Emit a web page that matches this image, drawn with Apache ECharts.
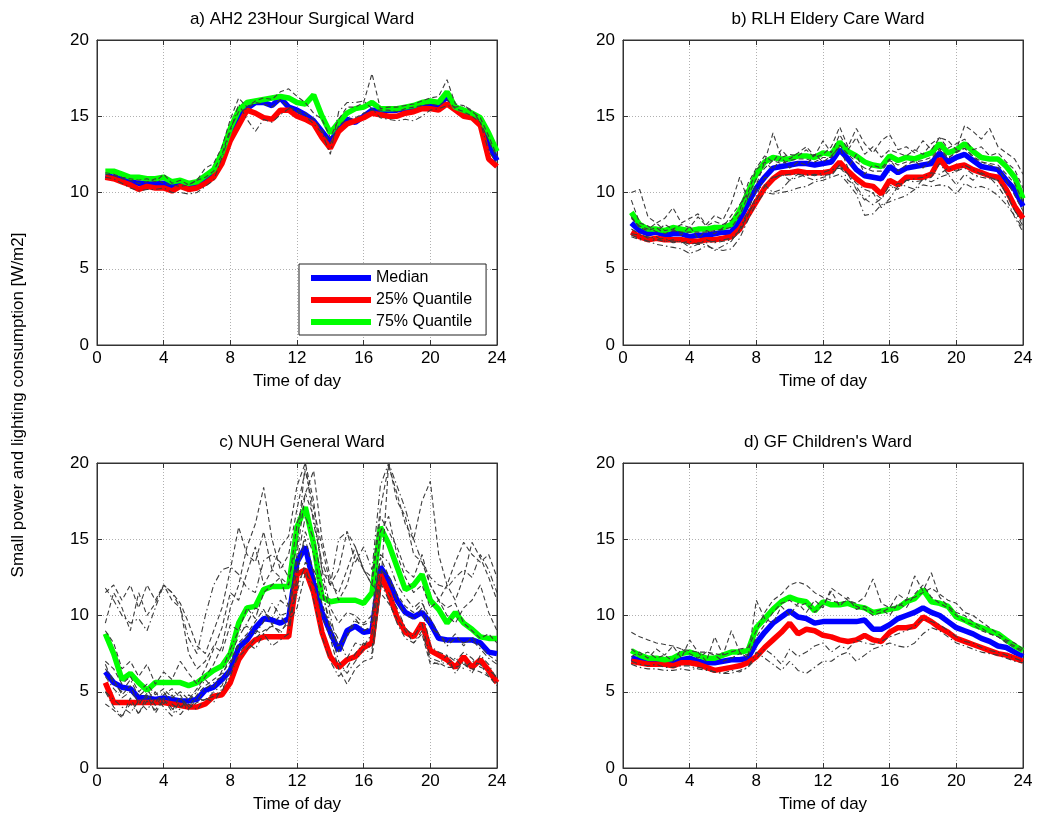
<!DOCTYPE html>
<html>
<head>
<meta charset="utf-8">
<script src="https://cdn.jsdelivr.net/npm/echarts@6/dist/echarts.min.js"></script>
<style>
  html, body { margin: 0; padding: 0; background: #fff; }
  #main { width: 1039px; height: 826px; }
</style>
</head>
<body>
<div id="main"></div>
<script>
// half-hourly time stamps
var hours = [0.5,1,1.5,2,2.5,3,3.5,4, 4.5,5,5.5,6,6.5,7,7.5,8,
             8.5,9,9.5,10,10.5,11,11.5,12, 12.5,13,13.5,14,14.5,15,15.5,16,
             16.5,17,17.5,18,18.5,19,19.5,20, 20.5,21,21.5,22,22.5,23,23.5,24];
var xTicks = [0, 4, 8, 12, 16, 20, 24];
var yTicks = [0, 5, 10, 15, 20];

var panelTitles = ['a) AH2 23Hour Surgical Ward', 'b) RLH Eldery Care Ward',
                   'c) NUH General Ward', "d) GF Children's Ward"];

// a) AH2
var medA = [11.1,11.0,10.9,10.7,10.6,10.6,10.6,10.6,
  10.4,10.5,10.4,10.6,10.9,11.2,12.3,13.8,
  14.9,15.5,15.9,15.9,15.7,16.2,15.6,15.4,
  15.1,14.7,14.0,13.3,14.2,14.8,14.6,15.0,
  15.4,15.4,15.4,15.4,15.5,15.6,15.7,15.8,
  15.7,16.3,15.6,15.3,15.1,14.7,13.2,12.1];
var q25A = [11.0,10.9,10.7,10.5,10.2,10.4,10.3,10.3,
  10.1,10.4,10.2,10.3,10.6,11.0,11.9,13.4,
  14.4,15.4,15.2,14.9,14.8,15.4,15.4,15.0,
  14.8,14.5,13.6,12.9,14.0,14.5,14.7,14.9,
  15.2,15.1,15.0,15.0,15.2,15.3,15.5,15.5,
  15.4,15.8,15.4,15.0,14.9,14.4,12.2,11.7];
var q75A = [11.4,11.4,11.2,11.0,11.0,10.9,10.9,11.0,
  10.7,10.8,10.6,10.7,11.1,11.5,12.6,14.2,
  15.4,15.9,16.0,16.1,16.2,16.3,16.2,15.9,
  15.8,16.4,15.0,13.9,14.6,15.2,15.5,15.6,
  15.9,15.5,15.5,15.5,15.6,15.7,15.9,16.0,
  15.9,16.6,15.6,15.4,15.2,14.9,13.9,12.7];
var daysA = [
 [11.3,11.2,11.0,10.9,10.8,10.9,10.7,11.2,
  10.6,10.8,10.5,10.8,11.6,11.9,13.0,14.8,
  16.2,15.6,16.0,16.2,16.1,16.6,16.8,16.3,
  15.9,15.2,14.8,13.6,14.8,15.6,15.6,15.9,
  17.8,15.5,15.6,15.6,15.7,15.8,16.0,16.2,
  16.3,17.4,15.8,15.7,15.3,14.9,13.7,12.4],
 [11.0,10.9,10.6,10.3,10.1,10.2,10.2,10.3,
  10.0,10.0,9.9,10.0,10.4,10.8,12.3,14.0,
  15.8,14.8,14.0,14.8,14.6,15.1,15.5,15.3,
  15.0,14.5,13.9,12.5,15.3,15.9,15.9,16.0,
  15.5,14.9,14.8,14.7,14.8,14.7,15.0,15.4,
  15.5,15.7,15.6,15.7,15.4,14.6,12.7,11.9],
 [11.2,11.1,10.9,10.8,10.6,10.7,10.9,10.6,
  10.5,10.4,10.5,10.8,11.0,11.4,12.5,14.2,
  15.3,15.5,15.9,15.8,15.6,16.1,15.6,15.4,
  15.2,14.8,14.1,13.2,14.4,14.8,14.9,15.2,
  15.4,15.4,15.4,15.3,15.5,15.6,15.7,15.8,
  15.7,16.1,15.5,15.3,15.0,14.6,13.4,12.3]
];

// b) RLH
var medB = [8.0,7.5,7.3,7.4,7.2,7.3,7.3,7.1,
  7.2,7.2,7.3,7.4,7.4,8.2,9.3,10.3,
  11.0,11.6,11.7,11.8,11.9,11.9,11.8,11.9,
  12.0,12.8,12.2,11.5,11.1,11.0,10.9,11.7,
  11.3,11.6,11.7,11.8,11.9,12.6,12.0,12.3,
  12.5,12.1,11.7,11.6,11.5,10.8,10.2,9.1];
var q25B = [7.4,7.1,6.9,7.0,6.9,6.9,6.9,6.8,
  6.8,6.9,6.9,7.0,7.1,7.6,8.5,9.4,
  10.3,10.9,11.3,11.3,11.4,11.3,11.3,11.3,
  11.4,12.0,11.4,10.9,10.5,10.4,9.9,10.8,
  10.5,11.0,11.0,11.0,11.2,12.2,11.5,11.7,
  11.8,11.5,11.3,11.1,11.0,10.2,9.1,8.3];
var q75B = [8.7,7.9,7.6,7.6,7.5,7.7,7.6,7.5,
  7.6,7.6,7.7,7.7,7.9,8.8,10.0,11.2,
  12.0,12.3,12.2,12.2,12.4,12.4,12.3,12.6,
  12.5,13.3,12.7,12.4,12.0,11.8,11.7,12.4,
  12.1,12.3,12.2,12.4,12.6,13.2,12.6,12.8,
  13.2,12.7,12.3,12.2,12.2,11.7,11.0,9.6];
var daysB = [
 [10.0,10.2,8.4,8.0,8.3,9.0,8.0,8.3,
  8.6,7.9,8.5,8.2,9.3,11.0,9.5,10.5,
  12.0,13.9,12.3,12.5,12.4,12.8,12.3,12.5,
  13.0,14.3,13.0,14.2,13.2,12.6,13.4,13.8,
  12.8,13.0,12.6,13.4,12.8,13.6,13.4,12.8,
  14.4,14.0,13.5,14.2,13.0,12.6,12.2,11.2],
 [7.1,6.9,6.8,6.6,6.5,6.4,6.3,6.0,
  6.2,6.5,6.3,6.2,6.3,7.0,8.2,9.3,
  10.0,9.9,10.0,10.1,10.3,10.4,10.7,10.8,
  11.0,11.2,10.6,9.9,8.5,8.6,9.2,9.4,
  9.6,9.8,10.2,10.5,10.4,10.5,10.4,9.9,
  10.6,10.3,10.4,10.2,9.8,9.2,8.5,7.6],
 [8.3,7.8,7.6,8.0,7.5,7.6,7.9,7.7,
  8.4,7.8,8.1,7.9,8.2,8.8,10.6,11.6,
  12.4,12.0,12.8,12.2,12.6,13.0,12.4,13.4,
  12.6,13.8,12.8,13.6,12.5,13.0,12.3,12.8,
  12.6,12.4,12.8,12.5,13.2,13.6,12.9,13.2,
  13.5,12.8,13.0,12.4,12.6,12.0,11.5,10.3],
 [7.6,7.3,7.0,7.1,6.8,6.9,6.7,6.8,
  6.6,6.9,6.7,6.8,6.9,7.4,8.5,9.8,
  11.0,10.9,11.2,10.8,11.0,11.2,11.1,11.3,
  11.5,11.6,11.2,10.2,9.5,10.0,9.0,9.6,
  10.4,10.8,10.9,11.0,11.3,11.2,11.6,11.4,
  11.8,11.5,11.2,11.0,10.8,10.0,8.8,7.8],
 [9.5,8.0,7.8,7.4,7.9,7.6,7.2,7.8,
  7.0,7.5,7.3,7.7,8.5,9.2,10.0,11.5,
  12.0,11.5,12.3,11.6,12.0,11.8,12.5,12.0,
  12.4,13.0,11.6,12.5,11.2,11.8,11.6,12.2,
  11.4,11.8,12.1,11.6,12.2,12.8,12.2,12.7,
  12.9,12.3,12.0,11.8,11.6,10.8,9.8,8.8],
 [7.3,7.2,7.1,6.9,7.0,6.7,6.8,6.4,
  6.6,6.6,6.2,6.5,6.8,7.6,8.8,10.2,
  10.5,10.0,10.2,10.8,11.2,11.0,10.8,11.0,
  11.1,11.8,10.8,10.4,9.6,9.2,9.6,10.2,
  10.6,10.4,10.2,10.9,10.7,11.0,11.2,10.5,
  11.2,10.8,11.3,11.0,10.4,9.6,8.4,7.4],
 [8.4,7.7,7.5,7.7,7.3,7.5,7.4,7.4,
  7.4,7.4,7.5,7.6,7.7,8.5,9.8,10.9,
  11.6,12.1,11.9,12.1,12.2,12.2,12.0,12.3,
  12.3,13.1,12.5,12.0,11.6,11.4,11.4,12.1,
  11.8,12.0,12.0,12.1,12.3,12.9,12.3,12.6,
  12.9,12.4,12.0,11.9,11.8,11.2,10.6,9.4],
 [7.2,7.0,6.8,6.9,6.8,6.8,6.8,6.6,
  6.7,6.7,6.8,6.9,7.0,7.5,8.6,9.5,
  10.4,11.0,11.1,11.2,11.2,11.1,11.2,11.1,
  11.2,11.8,11.2,10.6,10.2,10.0,9.6,10.5,
  10.2,10.8,10.7,10.8,11.0,11.9,11.2,11.4,
  11.6,11.2,11.0,10.9,10.8,9.9,8.8,8.0]
];

// c) NUH
var medC = [6.3,5.6,5.3,5.2,4.6,4.6,4.5,4.6,
  4.5,4.4,4.4,4.5,5.1,5.3,5.8,6.4,
  7.9,8.4,9.2,9.8,9.7,9.5,9.8,13.5,
  14.5,12.1,10.2,8.9,7.7,9.0,9.3,8.9,
  9.0,13.2,12.3,11.0,10.2,9.9,10.2,9.5,
  8.5,8.4,8.4,8.4,8.4,8.2,7.6,7.5];
var q25C = [5.6,4.3,4.3,4.3,4.3,4.3,4.3,4.3,
  4.2,4.1,4.0,4.0,4.2,4.7,4.8,5.6,
  7.1,7.9,8.4,8.6,8.6,8.6,8.6,12.7,
  13.0,11.5,8.9,7.3,6.6,7.1,7.3,7.9,
  8.2,12.7,11.5,9.9,8.9,8.6,9.5,7.7,
  7.4,7.1,6.6,7.3,6.6,7.1,6.4,5.6];
var q75C = [8.8,7.5,5.8,6.2,5.6,5.1,5.6,5.6,
  5.6,5.6,5.4,5.6,6.0,6.4,6.7,7.5,
  9.5,10.5,10.6,11.7,11.9,11.9,11.9,15.8,
  17.1,14.7,11.2,10.9,11.0,11.0,11.0,10.8,
  11.5,15.8,14.7,13.2,11.7,12.0,12.7,11.0,
  10.4,9.5,10.2,9.5,9.1,8.6,8.5,8.5];
var daysC = [
 [11.5,12.0,11.0,12.0,10.5,12.0,11.0,12.0,
  11.5,10.8,9.5,8.0,7.5,9.0,10.5,13.0,
  15.8,14.0,13.5,15.5,13.0,14.5,15.2,18.5,
  20.0,17.5,13.0,12.0,11.5,13.0,14.5,13.0,
  12.0,11.5,20.0,17.5,16.5,14.0,13.5,12.0,
  11.0,12.0,13.5,14.8,14.0,13.5,14.0,12.5],
 [11.8,11.0,10.0,9.5,9.8,9.0,10.5,12.0,
  11.5,10.5,8.5,7.5,10.0,12.0,13.0,13.2,
  12.7,11.8,11.5,13.6,14.0,13.5,12.5,14.5,
  20.0,16.0,13.5,12.0,15.0,15.5,13.5,14.5,
  13.0,18.5,20.0,18.5,17.0,15.0,13.5,12.5,
  12.0,11.8,12.5,13.0,12.5,14.0,13.0,11.5],
 [4.2,3.8,3.3,4.6,3.5,4.8,3.6,4.5,
  3.7,4.8,3.9,4.3,4.5,4.7,5.0,6.4,
  7.3,7.8,8.5,9.0,9.3,9.0,9.5,10.5,
  12.8,12.0,10.0,8.5,6.5,5.5,6.5,7.0,
  7.2,11.5,10.8,9.8,9.0,8.2,8.8,6.8,
  6.9,6.6,6.6,6.8,6.5,6.3,6.0,5.4],
 [6.8,5.5,5.0,5.8,4.7,5.2,4.3,5.0,
  4.2,3.8,4.8,4.4,5.2,5.6,6.0,7.4,
  8.6,9.5,10.5,10.2,9.8,11.0,10.5,13.5,
  16.5,15.0,12.5,10.0,7.6,8.8,9.8,9.0,
  9.3,14.0,13.5,12.0,11.2,10.5,11.0,9.2,
  8.8,8.0,8.5,8.2,8.4,7.8,7.2,6.8],
 [9.0,8.2,6.5,7.0,6.0,6.8,5.5,6.3,
  5.8,7.0,6.2,5.5,6.5,7.8,9.2,11.5,
  11.0,12.8,14.5,12.0,13.0,12.5,12.0,16.0,
  18.0,19.5,15.0,12.5,11.0,12.0,14.0,13.0,
  12.0,16.5,15.5,14.5,13.0,12.5,14.0,12.0,
  11.0,10.5,10.8,9.5,9.0,8.5,8.8,8.2],
 [5.0,4.5,4.0,3.6,4.4,3.8,4.6,4.0,
  3.4,4.5,3.8,4.6,4.4,5.0,5.4,6.8,
  8.0,8.6,9.0,8.8,9.4,8.8,9.8,11.5,
  13.5,13.0,11.8,9.0,7.0,6.2,7.0,7.8,
  7.5,12.0,11.5,10.5,9.2,8.6,9.5,7.2,
  7.0,6.8,7.2,6.5,7.0,6.8,6.0,5.6],
 [9.5,11.5,10.5,9.0,11.5,10.0,10.8,12.0,
  11.0,10.5,7.5,6.5,7.0,8.0,7.6,9.4,
  9.0,10.5,9.8,11.5,12.0,12.5,10.5,14.0,
  18.0,16.5,13.0,10.5,9.5,10.2,10.0,9.5,
  10.0,15.5,16.5,14.0,12.5,11.5,12.0,10.5,
  11.0,10.0,9.5,10.5,11.0,12.0,10.2,9.0],
 [6.0,5.2,4.6,5.0,4.4,4.6,5.0,4.2,
  4.8,4.0,4.4,5.0,5.8,5.2,6.4,7.8,
  9.0,9.3,8.8,9.6,10.8,10.0,9.2,12.5,
  15.5,14.0,11.5,9.5,8.4,7.2,8.2,8.0,
  8.8,13.0,12.5,11.0,10.0,9.8,10.5,8.0,
  7.6,7.4,7.0,7.6,7.2,6.6,6.4,6.0],
 [7.0,6.5,5.5,6.0,5.0,5.5,4.8,5.2,
  4.6,5.0,4.5,5.2,6.0,6.8,8.0,10.5,
  12.0,14.5,16.0,18.4,15.0,13.0,14.0,17.0,
  19.5,17.0,14.5,12.0,13.0,15.5,14.5,13.0,
  12.5,17.0,19.8,18.0,16.0,15.0,17.5,18.8,
  14.0,12.0,11.0,12.5,14.8,13.8,12.5,11.0],
 [5.0,4.0,3.4,4.2,3.6,4.4,3.8,4.6,
  3.9,3.5,4.2,3.8,4.6,4.3,5.2,6.0,
  7.5,8.2,7.8,8.8,8.0,8.4,8.8,12.0,
  13.2,11.0,8.6,7.0,6.0,6.6,7.5,8.2,
  7.8,12.2,11.0,9.5,8.5,8.2,9.0,7.0,
  6.8,7.4,6.2,7.0,6.2,7.4,6.8,5.8],
 [6.5,5.8,4.8,5.4,4.2,4.9,4.1,4.8,
  5.2,4.6,4.0,4.8,5.4,5.8,6.2,7.0,
  8.2,8.8,9.6,10.4,9.4,10.0,10.2,13.0,
  15.0,12.8,10.8,9.2,8.0,8.6,9.6,9.4,
  9.6,13.8,12.6,11.4,10.6,10.2,10.8,9.8,
  8.8,8.2,8.8,8.0,8.6,8.0,7.4,7.0]
];

// d) GF
var medD = [7.2,7.1,7.0,7.0,7.0,7.0,7.1,7.2,
  7.0,6.9,6.9,7.0,7.1,7.1,7.2,8.2,
  8.9,9.5,9.9,10.3,9.9,9.8,9.5,9.6,
  9.6,9.6,9.6,9.6,9.7,9.1,9.1,9.4,
  9.8,10.0,10.2,10.5,10.2,10.0,9.6,9.2,
  9.0,8.8,8.5,8.3,8.0,7.9,7.6,7.3];
var q25D = [7.0,6.9,6.8,6.8,6.8,6.7,6.9,6.9,
  6.8,6.6,6.4,6.5,6.6,6.7,6.9,7.3,
  7.9,8.4,8.9,9.5,8.8,9.1,9.0,8.7,
  8.6,8.4,8.3,8.4,8.7,8.4,8.3,8.9,
  9.2,9.2,9.3,9.9,9.6,9.2,8.9,8.5,
  8.3,8.1,7.9,7.7,7.5,7.4,7.2,7.0];
var q75D = [7.7,7.4,7.2,7.2,7.1,7.2,7.5,7.6,
  7.4,7.2,7.2,7.4,7.6,7.6,7.7,9.2,
  9.8,10.4,10.9,11.2,11.0,10.9,10.3,10.9,
  10.7,10.7,10.8,10.6,10.5,10.2,10.3,10.4,
  10.5,10.9,11.1,11.7,10.9,10.8,10.6,9.9,
  9.7,9.4,9.2,9.0,8.8,8.4,8.0,7.7];
var daysD = [
 [8.9,8.6,8.4,8.2,8.1,8.0,7.8,7.7,
  7.6,7.6,7.5,7.4,7.6,7.8,7.9,9.0,
  10.2,11.0,11.4,12.0,12.2,12.0,11.5,11.2,
  11.0,10.8,11.0,10.6,10.4,10.0,10.2,10.5,
  10.6,11.0,11.2,11.5,11.8,11.4,11.0,10.8,
  10.2,10.0,9.6,9.2,8.8,8.4,8.2,7.8],
 [6.8,6.6,6.5,6.5,6.4,6.4,6.5,6.4,
  6.6,6.5,6.3,6.2,6.2,6.4,6.6,7.6,
  7.2,6.8,6.4,7.0,6.4,6.2,6.6,7.0,
  7.0,7.4,7.6,7.0,7.4,7.8,8.0,8.2,
  8.0,7.9,8.2,8.8,9.2,9.0,8.6,8.2,
  8.0,7.8,7.6,7.5,7.4,7.2,7.0,6.9],
 [7.3,7.6,7.2,7.8,7.4,8.0,7.2,8.4,
  7.6,7.0,8.6,7.4,9.0,7.6,7.2,11.0,
  9.8,9.5,10.6,10.0,10.8,10.2,11.0,10.5,
  11.8,11.4,11.0,10.8,11.2,12.4,10.8,10.5,
  11.4,11.0,12.6,11.6,12.8,11.2,10.6,10.2,
  10.0,9.6,9.2,8.8,8.6,8.2,7.9,7.6],
 [7.0,6.8,6.7,6.8,6.6,6.6,6.7,6.7,
  6.5,6.4,6.3,6.2,6.4,6.3,6.6,7.2,
  7.8,7.4,6.8,7.8,7.3,7.6,8.0,8.2,
  7.6,8.0,7.8,8.4,8.2,8.1,8.3,8.6,
  8.8,9.0,9.3,9.8,9.6,9.4,9.0,8.6,
  8.3,8.2,7.9,7.7,7.6,7.4,7.2,7.0],
 [7.8,7.4,7.6,7.2,7.4,7.0,7.8,7.5,
  7.2,7.6,7.4,7.0,7.2,7.5,7.4,8.6,
  9.4,10.2,10.8,11.0,10.6,10.8,10.2,10.7,
  11.6,10.6,11.2,10.4,10.6,10.2,10.4,10.0,
  10.8,10.5,11.4,12.0,11.2,10.8,10.5,10.0,
  9.6,9.4,9.0,8.8,8.6,8.3,8.0,7.7]
];

var panels = [
  { med: medA, q25: q25A, q75: q75A, days: daysA, left: 97,  top: 40 },
  { med: medB, q25: q25B, q75: q75B, days: daysB, left: 623, top: 40 },
  { med: medC, q25: q25C, q75: q75C, days: daysC, left: 97,  top: 463 },
  { med: medD, q25: q25D, q75: q75D, days: daysD, left: 623, top: 463 }
];

var FONT = '"Liberation Sans", Arial, sans-serif';
var W = 400, H = 305;

function pairs(vals) {
  return hours.map(function (h, i) { return [h, vals[i]]; });
}
function ticks() {
  return { show: true, inside: true, length: 5, lineStyle: { color: '#333', width: 1 } };
}

var grids = [], xAxes = [], yAxes = [], series = [], titles = [];

panels.forEach(function (p, k) {
  grids.push({ left: p.left, top: p.top, width: W, height: H,
               show: true, borderColor: '#333', borderWidth: 1 });
  titles.push({ text: panelTitles[k], left: p.left + W / 2, top: p.top - 34,
                textAlign: 'center',
                textStyle: { fontFamily: FONT, fontSize: 17, fontWeight: 'normal', color: '#000' } });

  xAxes.push({
    gridIndex: k, type: 'value', min: 0, max: 24, interval: 4, position: 'bottom',
    name: 'Time of day', nameLocation: 'middle', nameGap: 28,
    nameTextStyle: { fontFamily: FONT, fontSize: 17, color: '#000' },
    axisLine: { onZero: false, lineStyle: { color: '#333' } },
    axisTick: ticks(),
    axisLabel: { fontFamily: FONT, fontSize: 17, color: '#000', margin: 5 },
    splitLine: { show: true, lineStyle: { color: '#b0b0b0', type: [1, 2] } }
  });
  xAxes.push({
    gridIndex: k, type: 'value', min: 0, max: 24, interval: 4, position: 'top',
    axisLine: { onZero: false, lineStyle: { color: '#333' } }, axisTick: ticks(),
    axisLabel: { show: false }, splitLine: { show: false }
  });
  yAxes.push({
    gridIndex: k, type: 'value', min: 0, max: 20, interval: 5, position: 'left',
    axisLine: { show: true, onZero: false, lineStyle: { color: '#333' } },
    axisTick: ticks(),
    axisLabel: { fontFamily: FONT, fontSize: 17, color: '#000', margin: 8 },
    splitLine: { show: true, lineStyle: { color: '#b0b0b0', type: [1, 2] } }
  });
  yAxes.push({
    gridIndex: k, type: 'value', min: 0, max: 20, interval: 5, position: 'right',
    axisLine: { show: true, onZero: false, lineStyle: { color: '#333' } }, axisTick: ticks(),
    axisLabel: { show: false }, splitLine: { show: false }
  });

  var xi = 2 * k, yi = 2 * k;
  var quant = [
    { name: 'Median', data: p.med, color: '#0000ff' },
    { name: '25% Quantile', data: p.q25, color: '#ff0000' },
    { name: '75% Quantile', data: p.q75, color: '#00ff00' }
  ];
  quant.forEach(function (q, j) {
    series.push({
      name: q.name, type: 'line', xAxisIndex: xi, yAxisIndex: yi,
      data: pairs(q.data), showSymbol: false, symbol: 'none', z: 2 + j * 0.1,
      color: q.color, lineStyle: { color: q.color, width: 5.5 }
    });
  });
  p.days.forEach(function (d, j) {
    series.push({
      name: 'day' + k + '_' + j, type: 'line', xAxisIndex: xi, yAxisIndex: yi,
      data: pairs(d), showSymbol: false, symbol: 'none', z: 3, silent: true,
      lineStyle: { color: '#3c3c3c', width: 1.1,
                   type: j % 2 ? [6, 3, 1.5, 3] : [5, 3] }
    });
  });
});

var chart = echarts.init(document.getElementById('main'), null, { renderer: 'canvas' });
chart.setOption({
  animation: false,
  backgroundColor: '#fff',
  title: titles,
  grid: grids,
  xAxis: xAxes,
  yAxis: yAxes,
  legend: {
    data: ['Median', '25% Quantile', '75% Quantile'],
    orient: 'vertical', left: 299, top: 264,
    padding: [6, 14, 5, 12], itemGap: 6,
    itemWidth: 60, itemHeight: 6, icon: 'rect',
    backgroundColor: '#fff', borderColor: '#222', borderWidth: 1,
    textStyle: { fontFamily: FONT, fontSize: 16, color: '#000' },
    selectedMode: false, z: 10
  },
  graphic: [{
    type: 'text', x: 18, y: 405, rotation: Math.PI / 2,
    style: { text: 'Small power and lighting consumption [W/m2]',
             font: '17px ' + FONT, fill: '#000',
             textAlign: 'center', textVerticalAlign: 'middle' }
  }],
  series: series
});
</script>
</body>
</html>
